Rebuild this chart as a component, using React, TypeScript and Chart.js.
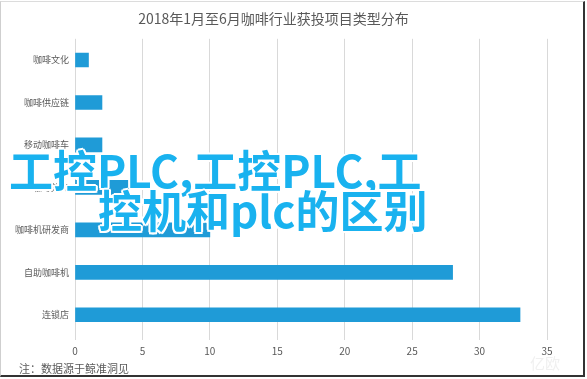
import React, { useEffect, useRef } from "react";
import { Chart, registerables } from "chart.js";

Chart.register(...registerables);

const TITLE = "2018年1月至6月咖啡行业获投项目类型分布";
const categories = ["咖啡文化", "咖啡供应链", "移动咖啡车", "咖啡外卖", "咖啡机研发商", "自助咖啡机", "连锁店"];
const counts = [1, 2, 2, 4, 10, 28, 33];
const xTicks = [0, 5, 10, 15, 20, 25, 30, 35];
const NOTE = "注：数据源于鲸准洞见";
const OVERLAY_LINE1 = "工控PLC,工控PLC,工";
const OVERLAY_LINE2 = "控机和plc的区别";

const FONT = '"Noto Sans CJK SC", "Noto Sans", sans-serif';

export default function App() {
  const ref = useRef<HTMLCanvasElement | null>(null);

  useEffect(() => {
    if (!ref.current) return;
    const chart = new Chart(ref.current, {
      type: "bar",
      data: {
        labels: categories,
        datasets: [
          {
            data: counts,
            backgroundColor: "#1f9bd7",
            borderWidth: 0,
            barThickness: 14,
          },
        ],
      },
      options: {
        indexAxis: "y",
        animation: false,
        responsive: false,
        maintainAspectRatio: false,
        layout: { padding: { left: 0, right: 40, top: 0, bottom: 17 } },
        plugins: {
          legend: { display: false },
          tooltip: { enabled: false },
          title: {
            display: true,
            text: TITLE,
            color: "#595959",
            font: { family: FONT, size: 14, weight: "normal" },
            padding: { top: 10, bottom: 12 },
          },
        },
        scales: {
          x: {
            min: 0,
            max: 35,
            afterBuildTicks: (scale: any) => {
              scale.ticks = xTicks.map((v) => ({ value: v }));
            },
            grid: {
              color: "#d9d9d9",
              lineWidth: 1,
              drawTicks: true,
              tickLength: 4,
              tickColor: "#d9d9d9",
            },
            border: { display: false },
            ticks: {
              color: "#595959",
              font: { family: FONT, size: 10 },
              padding: 5,
              maxRotation: 0,
            },
          },
          y: {
            afterFit: (scale: any) => {
              scale.width = 75;
            },
            grid: { display: false, drawTicks: false },
            border: { display: false },
            ticks: {
              color: "#595959",
              font: { family: FONT, size: 9 },
              padding: 6,
            },
          },
        },
      },
    });
    return () => chart.destroy();
  }, []);

  const outline =
    "2px 0 0 #fff, -2px 0 0 #fff, 0 2px 0 #fff, 0 -2px 0 #fff, 1.5px 1.5px 0 #fff, -1.5px -1.5px 0 #fff, 1.5px -1.5px 0 #fff, -1.5px 1.5px 0 #fff";
  const overlayStyle: React.CSSProperties = {
    position: "absolute",
    fontFamily: FONT,
    fontWeight: 700,
    fontSize: 44,
    lineHeight: "44px",
    color: "#19b2ef",
    textShadow: outline,
    whiteSpace: "nowrap",
    letterSpacing: 0,
  };

  return (
    <div
      style={{
        position: "fixed",
        left: 0,
        top: 0,
        width: 587,
        height: 379,
        background: "#fff",
        overflow: "hidden",
      }}
    >
      <canvas ref={ref} width={587} height={379} style={{ position: "absolute", left: 0, top: 0 }} />
      <div
        style={{
          position: "absolute",
          left: 19,
          top: 360,
          fontFamily: FONT,
          fontSize: 11,
          color: "#595959",
          whiteSpace: "nowrap",
        }}
      >
        {NOTE}
      </div>
      <div
        style={{
          position: "absolute",
          left: 530,
          top: 352,
          fontFamily: FONT,
          fontSize: 15,
          color: "#f0f0f0",
          whiteSpace: "nowrap",
        }}
      >
        亿欧
      </div>
      <div style={{ ...overlayStyle, left: 9, top: 147 }}>{OVERLAY_LINE1}</div>
      <div style={{ ...overlayStyle, left: 98, top: 187 }}>{OVERLAY_LINE2}</div>
      <div
        style={{
          position: "absolute",
          left: 0,
          top: 1,
          width: 582,
          height: 373,
          borderTop: "1px solid #dcdcdc",
          borderLeft: "1px solid #cfcfcf",
          borderRight: "2px solid #333",
          borderBottom: "2px solid #333",
          pointerEvents: "none",
        }}
      />
    </div>
  );
}
